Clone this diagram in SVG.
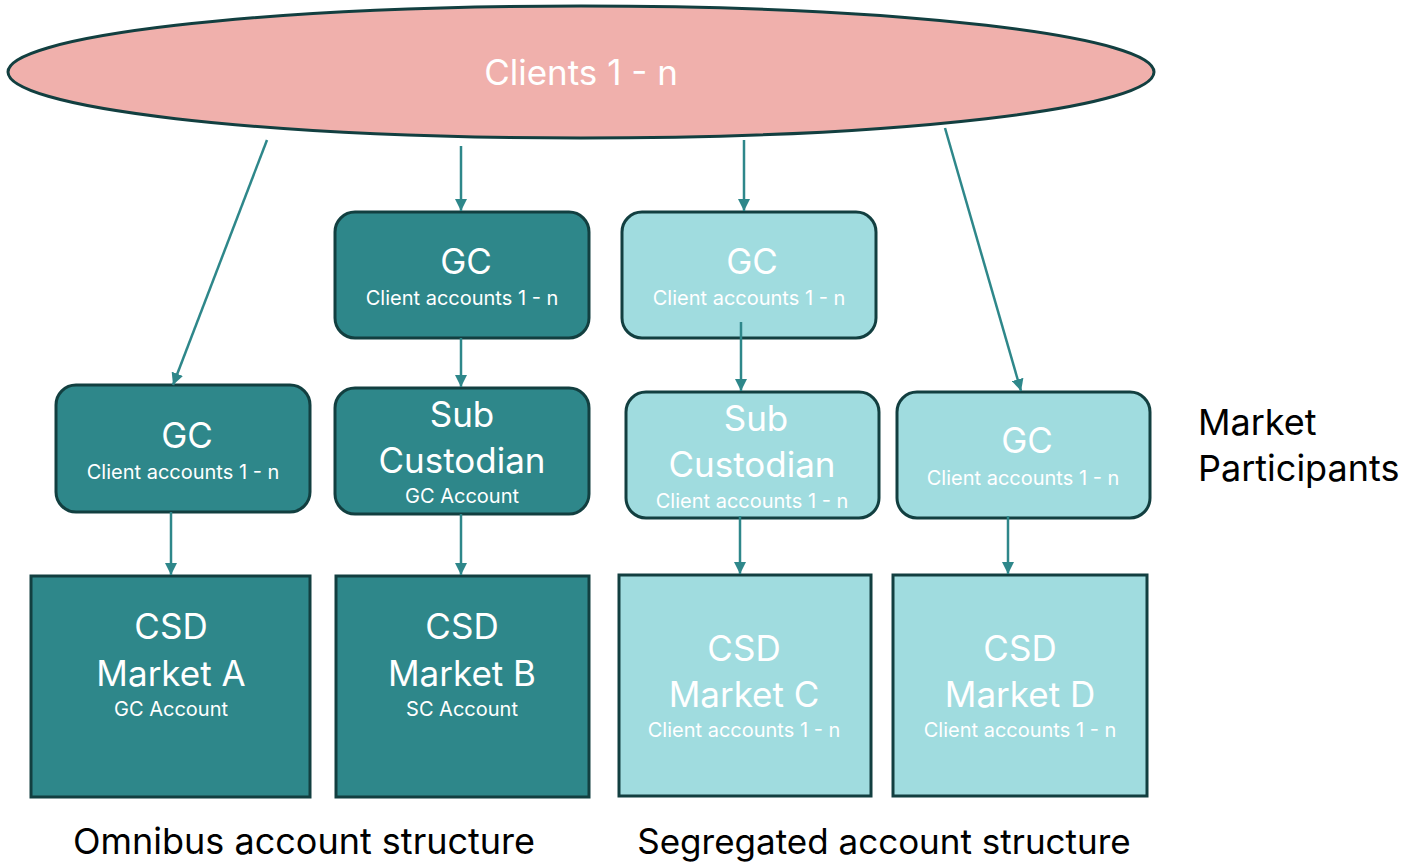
<svg xmlns="http://www.w3.org/2000/svg" width="1416" height="863" viewBox="0 0 1416 863">
<defs>
<marker id="ah" viewBox="0 0 10 10" refX="10" refY="5" markerWidth="12" markerHeight="12" markerUnits="userSpaceOnUse" orient="auto">
<path d="M0,0 L10,5 L0,10 z" fill="#2E878A"/>
</marker>
</defs>
<style>
.dark{fill:#2E878A;stroke:#123F40;stroke-width:3}
.light{fill:#A0DCDF;stroke:#123F40;stroke-width:3}
text{font-family:Inter,"Liberation Sans",sans-serif;text-anchor:middle;fill:#fff}
.big{font-size:35px}
.sm{font-size:20px}
.lbl{font-size:36px;fill:#000;text-anchor:start}
.conn line{stroke:#2E878A;stroke-width:2.5;marker-end:url(#ah)}
</style>
<g id="clients">
<ellipse cx="581" cy="72" rx="573" ry="66" fill="#F0B0AC" stroke="#123F40" stroke-width="3"/>
<text x="581" y="85" class="big">Clients 1 - n</text>
</g>
<g id="gc-b">
<rect x="335" y="212" width="254" height="126" rx="20" class="dark"/>
<text x="466" y="274" class="big">GC</text>
<text x="462" y="305" class="sm">Client accounts 1 - n</text>
</g>
<g id="gc-a">
<rect x="56" y="385" width="254" height="127" rx="20" class="dark"/>
<text x="187" y="448" class="big">GC</text>
<text x="183" y="479" class="sm">Client accounts 1 - n</text>
</g>
<g id="sub-b">
<rect x="335" y="388" width="254" height="126" rx="20" class="dark"/>
<text x="462" y="427" class="big">Sub</text>
<text x="462" y="473" class="big">Custodian</text>
<text x="462" y="503" class="sm">GC Account</text>
</g>
<g id="csd-a">
<rect x="31" y="576" width="279" height="221" class="dark"/>
<text x="171" y="639" class="big">CSD</text>
<text x="171" y="686" class="big">Market A</text>
<text x="171" y="716" class="sm">GC Account</text>
</g>
<g id="csd-b">
<rect x="336" y="576" width="253" height="221" class="dark"/>
<text x="462" y="639" class="big">CSD</text>
<text x="462" y="686" class="big">Market B</text>
<text x="462" y="716" class="sm">SC Account</text>
</g>
<g id="gc-c">
<rect x="622" y="212" width="254" height="126" rx="20" class="light"/>
<text x="752" y="274" class="big">GC</text>
<text x="749" y="305" class="sm">Client accounts 1 - n</text>
</g>
<g id="sub-c">
<rect x="626" y="392" width="253" height="126" rx="20" class="light"/>
<text x="756" y="431" class="big">Sub</text>
<text x="752" y="477" class="big">Custodian</text>
<text x="752" y="508" class="sm">Client accounts 1 - n</text>
</g>
<g id="gc-d">
<rect x="897" y="392" width="253" height="126" rx="20" class="light"/>
<text x="1027" y="453" class="big">GC</text>
<text x="1023" y="485" class="sm">Client accounts 1 - n</text>
</g>
<g id="csd-c">
<rect x="619" y="575" width="252" height="221" class="light"/>
<text x="744" y="661" class="big">CSD</text>
<text x="744" y="707" class="big">Market C</text>
<text x="744" y="737" class="sm">Client accounts 1 - n</text>
</g>
<g id="csd-d">
<rect x="893" y="575" width="254" height="221" class="light"/>
<text x="1020" y="661" class="big">CSD</text>
<text x="1020" y="707" class="big">Market D</text>
<text x="1020" y="737" class="sm">Client accounts 1 - n</text>
</g>
<g id="labels">
<text x="1198" y="435" class="lbl">Market</text>
<text x="1198" y="481" class="lbl">Participants</text>
<text x="304" y="854" class="lbl" style="text-anchor:middle">Omnibus account structure</text>
<text x="884" y="854" class="lbl" style="text-anchor:middle;font-size:35px">Segregated account structure</text>
</g>
<g id="connectors" class="conn">
<line x1="267" y1="140" x2="173" y2="385"/>
<line x1="461" y1="146" x2="461" y2="211"/>
<line x1="744" y1="140" x2="744" y2="211"/>
<line x1="945" y1="128" x2="1021" y2="391"/>
<line x1="461" y1="338" x2="461" y2="387"/>
<line x1="741" y1="322" x2="741" y2="391"/>
<line x1="171" y1="512" x2="171" y2="575"/>
<line x1="461" y1="514" x2="461" y2="575"/>
<line x1="740" y1="516" x2="740" y2="574"/>
<line x1="1008" y1="516" x2="1008" y2="574"/>
</g>
</svg>
